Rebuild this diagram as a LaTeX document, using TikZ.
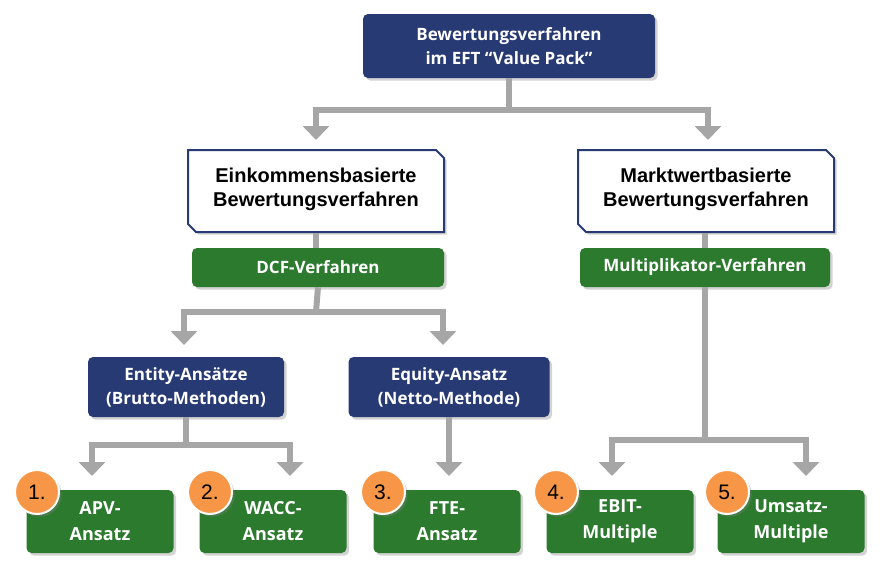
\documentclass[tikz,border=0pt]{standalone}
\usepackage{fontspec}
\setmainfont{Open Sans}
\newfontfamily\arialfont{Liberation Sans}
\usetikzlibrary{shadows,arrows.meta,shapes.geometric,positioning,calc}
\definecolor{navy}{HTML}{283A73}
\definecolor{grn}{HTML}{2B7A2E}
\definecolor{conn}{HTML}{A6A6A6}
\definecolor{orng}{HTML}{F79646}
\tikzset{
  % box styles
  navybox/.style={draw=none, fill=navy, rounded corners=5pt, text=white, font=\fontsize{17}{24}\selectfont\bfseries, align=center, drop shadow={opacity=0.35}},
  greenbox/.style={draw=none, fill=grn, rounded corners=5pt, text=white, font=\fontsize{17}{22}\selectfont\bfseries, align=center, drop shadow={opacity=0.35}},
  numcirc/.style={circle, draw=white, line width=2pt, fill=orng, minimum size=44pt, inner sep=0pt, font=\arialfont\fontsize{21}{22}\selectfont, drop shadow={opacity=0.35}},
  conn/.style={draw=conn, line width=6pt},
  arr/.style={conn, -{Triangle[length=14pt,width=26pt]}}
}
\begin{document}
\begin{tikzpicture}[x=1pt, y=-1pt]
    \useasboundingbox (0,0) rectangle (886,570);
    % Top
    \node [navybox, minimum width=292pt, minimum height=64pt] (top) at (509,46) {Bewertungsverfahren\\im EFT “Value Pack”};
    % cut-corner boxes
    \foreach \cx/\nm/\txt in {316/income/Einkommensbasierte, 706/market/Marktwertbasierte} {
      \draw [navy, line width=2pt, fill=white, drop shadow={opacity=0.35}]
        (\cx-128,150) -- (\cx+120,150) -- (\cx+128,158) -- (\cx+128,232) -- (\cx-120,232) -- (\cx-128,224) -- cycle;
      \node [font=\arialfont\fontsize{20}{24}\selectfont\bfseries, align=center] (\nm) at (\cx,189) {\txt\\Bewertungsverfahren};
    }
    \node [greenbox, minimum width=252pt, minimum height=39pt] (dcf) at (318,267.5) {DCF-Verfahren};
    \node [greenbox, minimum width=250pt, minimum height=39pt] (multi) at (705,267.5) {Multiplikator-Verfahren};
    \node [navybox, minimum width=196pt, minimum height=60pt] (entity) at (186,387) {Entity-Ansätze\\(Brutto-Methoden)};
    \node [navybox, minimum width=201pt, minimum height=60pt] (equity) at (449,387) {Equity-Ansatz\\(Netto-Methode)};
    % bottom row
    \foreach \cx/\nm/\txt in {100/apv/APV-\\Ansatz, 273/wacc/WACC-\\Ansatz, 447/fte/FTE-\\Ansatz, 620/ebit/EBIT-\\Multiple, 791/umsatz/Umsatz-\\Multiple} {
      \node [greenbox, minimum width=147pt, minimum height=63pt, font=\fontsize{18}{26}\selectfont\bfseries] (\nm) at (\cx,521.5) {\txt};
    }
    \foreach \cx/\n in {37/1, 210/2, 383/3, 556/4, 727/5} {
      \node [numcirc] (c\n) at (\cx,492) {\n.};
    }
    % Connectors
    \coordinate (j1) at (509,110);
    \coordinate (j2) at (316,312);
    \coordinate (j3) at (186,445);
    \coordinate (j4) at (705,440);
    \draw [conn] (top.south) -- (j1);
    \draw [arr] (j1) -| (316,140);
    \draw [arr] (j1) -| (708,140);
    \draw [conn] (316,233) -- (316,248);
    \draw [conn] (705,233) -- (705,248);
    \draw [conn] (dcf.south) -- (j2);
    \draw [arr] (j2) -| (184,345);
    \draw [arr] (j2) -| (443,345);
    \draw [conn] (entity.south) -- (j3);
    \draw [arr] (j3) -| (92,476);
    \draw [arr] (j3) -| (290,476);
    \draw [arr] (equity.south) -- (449,476);
    \draw [conn] (multi.south) -- (j4);
    \draw [arr] (j4) -| (612,476);
    \draw [arr] (j4) -| (806,476);
\end{tikzpicture}
\end{document}
